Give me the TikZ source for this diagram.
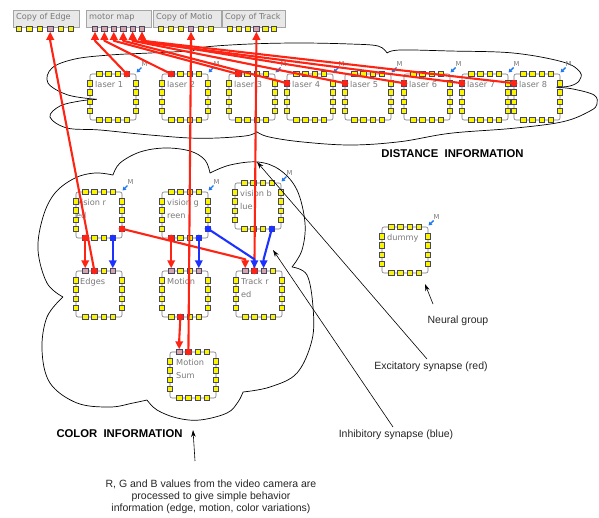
\documentclass[tikz,border=0pt]{standalone}
\usepackage{fontspec}
\setmainfont{Liberation Sans}
\newfontfamily\labfont{DejaVu Sans}
\usetikzlibrary{arrows.meta}
\definecolor{sqyellow}{RGB}{250,245,0}
\definecolor{sqedge}{RGB}{70,70,100}
\definecolor{modgray}{RGB}{115,115,125}
\definecolor{labgray}{RGB}{120,120,120}
\definecolor{excred}{RGB}{255,35,20}
\definecolor{inhblue}{RGB}{30,50,255}
\definecolor{mblue}{RGB}{30,120,240}
\definecolor{pinksq}{RGB}{215,165,165}
\definecolor{boxfill}{RGB}{232,232,232}
\definecolor{boxedge}{RGB}{165,165,165}
\tikzset{
  sq/.style={draw=sqedge, fill=sqyellow, line width=0.6pt, minimum size=5.5pt, inner sep=0pt, outer sep=0pt},
  modline/.style={draw=modgray, line width=0.6pt},
  modlabel/.style={font=\labfont\fontsize{8.2}{12.3}\selectfont, text=labgray, anchor=north west, inner sep=0pt, align=left},
  cbox/.style={fill=boxfill, draw=boxedge, line width=0.6pt},
  copylabel/.style={font=\labfont\fontsize{8.2}{10}\selectfont, text=labgray, anchor=west, inner sep=0pt},
  exc/.style={draw=excred, line width=2.1pt, line join=round, -{Triangle[length=8pt,width=7.5pt]}},
  inh/.style={draw=inhblue, line width=2.1pt, line join=round, -{Triangle[length=8pt,width=7.5pt]}},
  markerarrow/.style={draw=mblue, line width=1.4pt, -{Triangle[length=3.5pt,width=4pt]}},
  mtext/.style={font=\labfont\fontsize{6.8}{7}\selectfont, text=labgray, inner sep=0pt},
  cloud/.style={draw=black, line width=0.7pt},
  ann/.style={draw=black, line width=0.6pt, -{Stealth[length=7pt,width=4.5pt]}},
  anntext/.style={font=\fontsize{10.5}{12}\selectfont, text=black!85, inner sep=0pt},
  bigtext/.style={font=\bfseries\fontsize{11.3}{13}\selectfont, inner sep=0pt},
  pinkbox/.style={draw=sqedge, fill=pinksq, line width=0.6pt}
}
\newcommand{\nmodule}[5]{%
  \draw[modline, rounded corners=2pt] (#2,#3) rectangle ++(46,46);
  \node[modlabel] (#1-lab) at ({#2+#5},{#3+7.5}) {#4};
  \foreach \k in {1,2,3,4}{%
    \node[sq] (#1-t\k) at ({#2+9.2*\k},#3) {};
    \node[sq] (#1-b\k) at ({#2+9.2*\k},{#3+46}) {};
    \node[sq] (#1-l\k) at (#2,{#3+9.2*\k}) {};
    \node[sq] (#1-r\k) at ({#2+46},{#3+9.2*\k}) {};
  }%
}
\newcommand{\mmark}[3]{%
  \coordinate (#1-Ma) at ({#2+51.5},{#3-6.5});
  \coordinate (#1-Mb) at ({#2+46.5},{#3-1.5});
  \draw[markerarrow] (#1-Ma) -- (#1-Mb);
  \node[mtext] (#1-M) at ({#2+54.5},{#3-10}) {M};
}
\newcommand{\copyblock}[6]{%
  \draw[cbox] (#2,10) rectangle (#3,27);
  \node[copylabel] (#1-lab) at ({#2+3},17.5) {#4};
  \foreach \k in {0,...,5}{%
    \node[sq] (#1-s\k) at ({#5+(#6-#5)/5*\k},29) {};
  }%
}
\newcommand{\pinkit}[1]{\draw[pinkbox] (#1.south west) rectangle (#1.north east);}
\begin{document}
\begin{tikzpicture}[x=1pt,y=-1pt]
\useasboundingbox (0,0) rectangle (599,517);
% ---------------- clouds
% distance cloud
\draw[cloud] plot[smooth, tension=0.6] coordinates {(96.7,99.3) (68,95) (48,83) (52,68) (75,59) (110,55) (150,53) (193,51)};
\draw[cloud] plot[smooth, tension=0.6] coordinates {(193,51) (205,47) (250,44) (300,43) (350,44) (378,46) (387,53)};
\draw[cloud] plot[smooth, tension=0.6] coordinates {(387,53) (400,50) (450,51) (513,53) (563,62) (580,72) (579,81) (570,86) (556.7,87.3)};
\draw[cloud] plot[smooth, tension=0.6] coordinates {(556.7,87.3) (573,89) (594,95) (597,104) (590,111) (563,121.7) (513,128.3) (450,133.3) (400,141.7) (350,145) (300,141.7) (268,136.7) (256.7,131.7)};
\draw[cloud] plot[smooth, tension=0.6] coordinates {(256.7,131.7) (245,136) (200,138.3) (150,135) (100,130) (67,128) (50,117) (60,106) (80,101) (96.7,99.3)};
% color cloud
\draw[cloud] plot[smooth, tension=0.6] coordinates {(63,297) (47,283) (38,250) (43,217) (55,193) (75,178) (95,173) (113,175)};
\draw[cloud] plot[smooth, tension=0.6] coordinates {(113,175) (120,163) (140,152) (165,148) (190,151) (205,160) (210,173)};
\draw[cloud] plot[smooth, tension=0.6] coordinates {(210,173) (230,165) (258,162) (280,170) (297,190) (305,223) (302,250) (292,267)};
\draw[cloud] plot[smooth, tension=0.6] coordinates {(292,267) (307,275) (313,307) (312,340) (297,373) (270,387) (243,392)};
\draw[cloud] plot[smooth, tension=0.6] coordinates {(243,392) (238,402) (227,413) (200,420) (177,418) (157,410) (147,400)};
\draw[cloud] plot[smooth, tension=0.6] coordinates {(147,400) (133,403) (110,407) (77,403) (50,383) (42,350) (47,317) (63,297)};
% ---------------- copy blocks
\copyblock{CE}{13}{79}{Copy of Edge}{19}{71}
\copyblock{MM}{86}{151}{motor map}{95}{142}
\copyblock{CM}{153}{221}{Copy of Motio}{161}{211}
\copyblock{CT}{222}{285}{Copy of Track}{230}{274}
% ---------------- neural groups
\nmodule{L1}{90}{74}{laser 1}{5}
\nmodule{L2}{162}{74}{laser 2}{5}
\nmodule{L3}{229}{74}{laser 3}{5}
\nmodule{L4}{287}{74}{laser 4}{5}
\nmodule{L5}{345}{74}{laser 5}{5}
\nmodule{L6}{404}{74}{laser 6}{5}
\nmodule{L7}{462}{74}{laser 7}{5}
\nmodule{L8}{514}{74}{laser 8}{5}
\nmodule{visr}{76}{192}{vision r\\ed}{0}
\nmodule{visg}{162}{192}{vision g\\reen}{5}
\nmodule{visb}{235}{183}{vision b\\lue}{5}
\nmodule{E}{76}{271}{Edges}{4}
\nmodule{Mo}{162}{271}{Motion}{5}
\nmodule{Tr}{236}{271}{Track r\\ed}{5}
\nmodule{MS}{170}{352}{Motion\\Sum}{6}
\nmodule{dum}{382}{227}{dummy}{5}
\foreach \m/\x/\y in {L1/90/74, L2/162/74, L3/229/74, L4/287/74, L5/345/74, L6/404/74, L7/462/74, L8/514/74, visr/76/192, visg/162/192, visb/235/183, dum/382/227}{\mmark{\m}{\x}{\y}}
% target squares
\foreach \n in {CE-s3, MM-s0, MM-s1, MM-s2, MM-s3, MM-s4, MM-s5, CM-s3, CT-s3, E-t1, E-t4, Mo-t1, Mo-t4, Tr-t1, Tr-t3, MS-t1}{\pinkit{\n}}
% ---------------- synapses
\draw[exc] (L1-t4.center) -- ([yshift=-9pt]MM-s0.south) -- (MM-s0.south);
\draw[exc] (L2-t1.center) -- ([yshift=-9pt]MM-s1.south) -- (MM-s1.south);
\draw[exc] (L3-t1.center) -- ([yshift=-9pt]MM-s2.south) -- (MM-s2.south);
\draw[exc] (L4-l1.center) -- ([yshift=-9pt]MM-s3.south) -- (MM-s3.south);
\draw[exc] (L5-l1.center) -- ([yshift=-9pt]MM-s4.south) -- (MM-s4.south);
\draw[exc] (L6-l1.center) -- ([yshift=-9pt]MM-s5.south) -- (MM-s5.south);
\draw[exc] (L7-l1.center) -- ([yshift=-9pt]MM-s4.south) -- (MM-s4.south);
\draw[exc] (L8-l1.center) -- ([yshift=-9pt]MM-s5.south) -- (MM-s5.south);
\draw[exc] (E-t2.center) -- ([yshift=-9pt]CE-s3.south) -- (CE-s3.south);
\draw[exc] (MS-t2.center) -- ([yshift=-9pt]CM-s3.south) -- (CM-s3.south);
\draw[exc] (Tr-t2.center) -- ([yshift=-9pt]CT-s3.south) -- (CT-s3.south);
\draw[exc] (visr-b1.center) -- ([yshift=9pt]E-t1.north) -- (E-t1.north);
\draw[exc] (visg-b1.center) -- ([yshift=9pt]Mo-t1.north) -- (Mo-t1.north);
\draw[exc] (visr-r4.center) -- ([yshift=9pt]Tr-t1.north) -- (Tr-t1.north);
\draw[exc] (Mo-b2.center) -- ([yshift=9pt]MS-t1.north) -- (MS-t1.north);
\draw[inh] (visr-b4.center) -- ([yshift=9pt]E-t4.north) -- (E-t4.north);
\draw[inh] (visg-b4.center) -- ([yshift=9pt]Mo-t4.north) -- (Mo-t4.north);
\draw[inh] (visg-r4.center) -- ([yshift=9pt]Tr-t2.north) -- (Tr-t2.north);
\draw[inh] (visb-b4.center) -- ([yshift=9pt]Tr-t3.north) -- (Tr-t3.north);
\foreach \n in {L1-t4, L2-t1, L3-t1, L4-l1, L5-l1, L6-l1, L7-l1, L8-l1, E-t2, MS-t2, Tr-t2, visr-b1, visg-b1, visr-r4, Mo-b2}{\fill[excred] (\n.center) circle (3.3pt);}
\foreach \n in {visr-b4, visg-b4, visg-r4, visb-b4}{\fill[inhblue] (\n.center) circle (3.3pt);}
% ---------------- annotations
\node[bigtext] (distinfo) at (452.5,154) {DISTANCE\ \ INFORMATION};
\node[bigtext] (colorinfo) at (119.5,434) {COLOR\ \ INFORMATION};
\node[anntext] (ng) at (458,321) {Neural group};
\node[anntext] (exctext) at (431,367) {Excitatory synapse (red)};
\node[anntext] (inhtext) at (396,435) {Inhibitory synapse (blue)};
\node[anntext, align=center] (rgb) at (211,497) {R, G and B values from the video camera are\\processed to give simple behavior\\information (edge, motion, color variations)};
\coordinate (ngA) at (433,304);
\coordinate (ngB) at (425,284);
\coordinate (excA) at (427,359);
\coordinate (excB) at (257,162);
\coordinate (inhA) at (393,427);
\coordinate (inhB) at (273,250);
\coordinate (rgbA) at (195,461);
\coordinate (rgbB) at (193,430);
\draw[ann] (ngA) -- (ngB);
\draw[ann] (excA) -- (excB);
\draw[ann] (inhA) -- (inhB);
\draw[ann] (rgbA) -- (rgbB);
\end{tikzpicture}
\end{document}
